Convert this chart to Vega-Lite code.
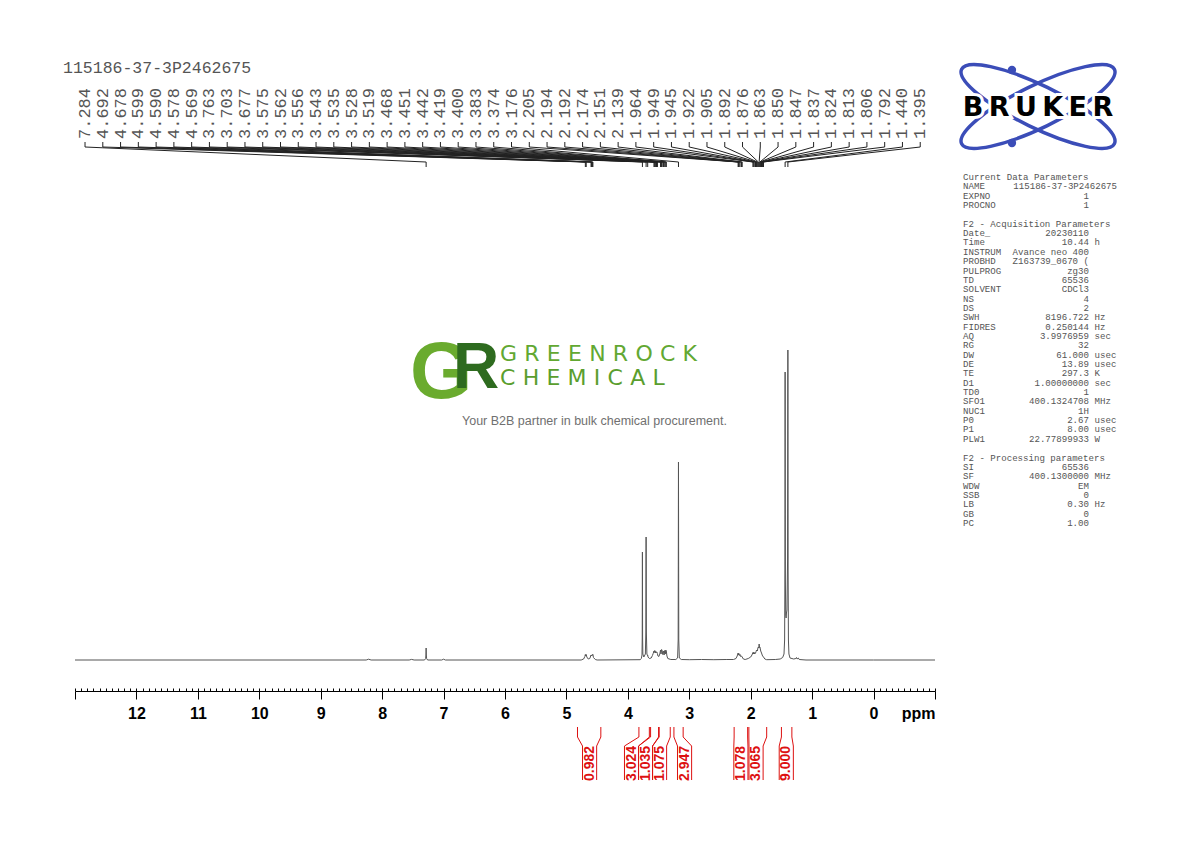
{
  "$schema": "https://vega.github.io/schema/vega-lite/v6.json",
  "description": "1H NMR spectrum, Bruker style plot with peak list, integrals and parameter panel.",
  "width": 860,
  "height": 691,
  "autosize": {"type": "none"},
  "padding": {"left": 75, "right": 255, "top": 0, "bottom": 151},
  "background": "white",
  "config": {"view": {"stroke": null}},
  "datasets": {
    "spectrum": [
      {"ppm": 13.0, "I": 0}, {"ppm": 8.26, "I": 0}, {"ppm": 8.22, "I": 0.8}, {"ppm": 8.18, "I": 0},
      {"ppm": 7.56, "I": 0}, {"ppm": 7.52, "I": 0.6}, {"ppm": 7.48, "I": 0},
      {"ppm": 7.31, "I": 0}, {"ppm": 7.292, "I": 1.5}, {"ppm": 7.287, "I": 5}, {"ppm": 7.284, "I": 12},
      {"ppm": 7.281, "I": 5}, {"ppm": 7.276, "I": 1.5}, {"ppm": 7.26, "I": 0},
      {"ppm": 7.03, "I": 0}, {"ppm": 7.0, "I": 0.8}, {"ppm": 6.97, "I": 0},
      {"ppm": 4.76, "I": 0}, {"ppm": 4.72, "I": 1}, {"ppm": 4.70, "I": 3.5}, {"ppm": 4.692, "I": 5.5},
      {"ppm": 4.685, "I": 4}, {"ppm": 4.678, "I": 5.5}, {"ppm": 4.668, "I": 3}, {"ppm": 4.645, "I": 1},
      {"ppm": 4.62, "I": 1.5}, {"ppm": 4.605, "I": 4}, {"ppm": 4.599, "I": 5}, {"ppm": 4.594, "I": 4.2},
      {"ppm": 4.590, "I": 5}, {"ppm": 4.584, "I": 4.5}, {"ppm": 4.578, "I": 5.5}, {"ppm": 4.573, "I": 4.8},
      {"ppm": 4.569, "I": 5.5}, {"ppm": 4.56, "I": 2.5}, {"ppm": 4.53, "I": 0.5}, {"ppm": 4.50, "I": 0},
      {"ppm": 3.80, "I": 0.3}, {"ppm": 3.78, "I": 1.5}, {"ppm": 3.770, "I": 5}, {"ppm": 3.766, "I": 22},
      {"ppm": 3.763, "I": 108}, {"ppm": 3.760, "I": 22}, {"ppm": 3.756, "I": 6}, {"ppm": 3.74, "I": 3},
      {"ppm": 3.715, "I": 6}, {"ppm": 3.707, "I": 28}, {"ppm": 3.703, "I": 123}, {"ppm": 3.699, "I": 28},
      {"ppm": 3.690, "I": 6}, {"ppm": 3.680, "I": 4.5}, {"ppm": 3.677, "I": 5}, {"ppm": 3.672, "I": 3},
      {"ppm": 3.65, "I": 1.5}, {"ppm": 3.62, "I": 2}, {"ppm": 3.60, "I": 4.5}, {"ppm": 3.588, "I": 6.5},
      {"ppm": 3.575, "I": 9}, {"ppm": 3.568, "I": 7.5}, {"ppm": 3.562, "I": 9.5}, {"ppm": 3.556, "I": 9},
      {"ppm": 3.550, "I": 7}, {"ppm": 3.543, "I": 8.5}, {"ppm": 3.535, "I": 7.5}, {"ppm": 3.528, "I": 8},
      {"ppm": 3.519, "I": 6.5}, {"ppm": 3.510, "I": 4}, {"ppm": 3.495, "I": 3.5}, {"ppm": 3.480, "I": 6},
      {"ppm": 3.468, "I": 10}, {"ppm": 3.460, "I": 6}, {"ppm": 3.451, "I": 10.5}, {"ppm": 3.442, "I": 9.5},
      {"ppm": 3.432, "I": 5.5}, {"ppm": 3.419, "I": 9}, {"ppm": 3.410, "I": 5}, {"ppm": 3.400, "I": 9.5},
      {"ppm": 3.390, "I": 6}, {"ppm": 3.383, "I": 10}, {"ppm": 3.374, "I": 9}, {"ppm": 3.364, "I": 4},
      {"ppm": 3.35, "I": 1.5}, {"ppm": 3.30, "I": 0.5}, {"ppm": 3.22, "I": 0.5}, {"ppm": 3.19, "I": 2},
      {"ppm": 3.181, "I": 20}, {"ppm": 3.176, "I": 198}, {"ppm": 3.171, "I": 20}, {"ppm": 3.162, "I": 2},
      {"ppm": 3.13, "I": 0.5}, {"ppm": 3.0, "I": 0.3}, {"ppm": 2.80, "I": 0.5}, {"ppm": 2.60, "I": 0.3},
      {"ppm": 2.40, "I": 0.5}, {"ppm": 2.28, "I": 0.5}, {"ppm": 2.24, "I": 1.5}, {"ppm": 2.22, "I": 4},
      {"ppm": 2.205, "I": 7}, {"ppm": 2.198, "I": 5}, {"ppm": 2.194, "I": 6.5}, {"ppm": 2.192, "I": 6.5},
      {"ppm": 2.185, "I": 4.5}, {"ppm": 2.174, "I": 5.5}, {"ppm": 2.165, "I": 3.5}, {"ppm": 2.151, "I": 4},
      {"ppm": 2.139, "I": 3}, {"ppm": 2.12, "I": 1}, {"ppm": 2.09, "I": 0.5}, {"ppm": 2.04, "I": 1.5},
      {"ppm": 2.00, "I": 3}, {"ppm": 1.980, "I": 5}, {"ppm": 1.964, "I": 7.5}, {"ppm": 1.955, "I": 6},
      {"ppm": 1.949, "I": 8}, {"ppm": 1.945, "I": 7.5}, {"ppm": 1.935, "I": 6}, {"ppm": 1.922, "I": 7},
      {"ppm": 1.912, "I": 8.5}, {"ppm": 1.905, "I": 10}, {"ppm": 1.892, "I": 9}, {"ppm": 1.883, "I": 12},
      {"ppm": 1.876, "I": 13}, {"ppm": 1.869, "I": 12}, {"ppm": 1.863, "I": 16}, {"ppm": 1.856, "I": 12.5},
      {"ppm": 1.850, "I": 13}, {"ppm": 1.847, "I": 12}, {"ppm": 1.837, "I": 9}, {"ppm": 1.824, "I": 7},
      {"ppm": 1.813, "I": 5}, {"ppm": 1.806, "I": 4}, {"ppm": 1.792, "I": 3}, {"ppm": 1.77, "I": 1},
      {"ppm": 1.74, "I": 0.3}, {"ppm": 1.60, "I": 0.5}, {"ppm": 1.52, "I": 1}, {"ppm": 1.48, "I": 2.5},
      {"ppm": 1.458, "I": 6}, {"ppm": 1.448, "I": 20}, {"ppm": 1.443, "I": 90}, {"ppm": 1.440, "I": 288},
      {"ppm": 1.436, "I": 80}, {"ppm": 1.430, "I": 45}, {"ppm": 1.424, "I": 42}, {"ppm": 1.418, "I": 47},
      {"ppm": 1.410, "I": 50}, {"ppm": 1.400, "I": 100}, {"ppm": 1.395, "I": 310}, {"ppm": 1.391, "I": 90},
      {"ppm": 1.386, "I": 20}, {"ppm": 1.378, "I": 6}, {"ppm": 1.36, "I": 2}, {"ppm": 1.30, "I": 1},
      {"ppm": 1.265, "I": 1.5}, {"ppm": 1.255, "I": 2.5}, {"ppm": 1.245, "I": 1}, {"ppm": 1.225, "I": 2},
      {"ppm": 1.21, "I": 0.5}, {"ppm": 1.10, "I": 0}, {"ppm": 0.0, "I": 0}, {"ppm": -1.0, "I": 0}
    ],
    "peaks": [
      {"ppm": 7.284}, {"ppm": 4.692}, {"ppm": 4.678}, {"ppm": 4.599}, {"ppm": 4.590}, {"ppm": 4.578},
      {"ppm": 4.569}, {"ppm": 3.763}, {"ppm": 3.703}, {"ppm": 3.677}, {"ppm": 3.575}, {"ppm": 3.562},
      {"ppm": 3.556}, {"ppm": 3.543}, {"ppm": 3.535}, {"ppm": 3.528}, {"ppm": 3.519}, {"ppm": 3.468},
      {"ppm": 3.451}, {"ppm": 3.442}, {"ppm": 3.419}, {"ppm": 3.400}, {"ppm": 3.383}, {"ppm": 3.374},
      {"ppm": 3.176}, {"ppm": 2.205}, {"ppm": 2.194}, {"ppm": 2.192}, {"ppm": 2.174}, {"ppm": 2.151},
      {"ppm": 2.139}, {"ppm": 1.964}, {"ppm": 1.949}, {"ppm": 1.945}, {"ppm": 1.922}, {"ppm": 1.905},
      {"ppm": 1.892}, {"ppm": 1.876}, {"ppm": 1.863}, {"ppm": 1.850}, {"ppm": 1.847}, {"ppm": 1.837},
      {"ppm": 1.824}, {"ppm": 1.813}, {"ppm": 1.806}, {"ppm": 1.792}, {"ppm": 1.440}, {"ppm": 1.395}
    ],
    "integrals": [
      {"value": 0.982, "start": 4.82, "end": 4.44, "lpos": 4.623},
      {"value": 3.024, "start": 3.82, "end": 3.65, "lpos": 3.940},
      {"value": 1.035, "start": 3.63, "end": 3.50, "lpos": 3.712},
      {"value": 1.075, "start": 3.49, "end": 3.31, "lpos": 3.484},
      {"value": 2.947, "start": 3.25, "end": 3.10, "lpos": 3.077},
      {"value": 1.078, "start": 2.27, "end": 2.05, "lpos": 2.160},
      {"value": 3.065, "start": 2.03, "end": 1.74, "lpos": 1.913},
      {"value": 9.000, "start": 1.50, "end": 1.33, "lpos": 1.421}
    ],
    "params": [
      {"row": 0, "key": "Current Data Parameters", "val": "", "unit": ""},
      {"row": 1, "key": "NAME", "val": "115186-37-3P2462675", "unit": ""},
      {"row": 2, "key": "EXPNO", "val": "1", "unit": ""},
      {"row": 3, "key": "PROCNO", "val": "1", "unit": ""},
      {"row": 5, "key": "F2 - Acquisition Parameters", "val": "", "unit": ""},
      {"row": 6, "key": "Date_", "val": "20230110", "unit": ""},
      {"row": 7, "key": "Time", "val": "10.44", "unit": "h"},
      {"row": 8, "key": "INSTRUM", "val": "Avance neo 400", "unit": ""},
      {"row": 9, "key": "PROBHD", "val": "Z163739_0670 (", "unit": ""},
      {"row": 10, "key": "PULPROG", "val": "zg30", "unit": ""},
      {"row": 11, "key": "TD", "val": "65536", "unit": ""},
      {"row": 12, "key": "SOLVENT", "val": "CDCl3", "unit": ""},
      {"row": 13, "key": "NS", "val": "4", "unit": ""},
      {"row": 14, "key": "DS", "val": "2", "unit": ""},
      {"row": 15, "key": "SWH", "val": "8196.722", "unit": "Hz"},
      {"row": 16, "key": "FIDRES", "val": "0.250144", "unit": "Hz"},
      {"row": 17, "key": "AQ", "val": "3.9976959", "unit": "sec"},
      {"row": 18, "key": "RG", "val": "32", "unit": ""},
      {"row": 19, "key": "DW", "val": "61.000", "unit": "usec"},
      {"row": 20, "key": "DE", "val": "13.89", "unit": "usec"},
      {"row": 21, "key": "TE", "val": "297.3", "unit": "K"},
      {"row": 22, "key": "D1", "val": "1.00000000", "unit": "sec"},
      {"row": 23, "key": "TD0", "val": "1", "unit": ""},
      {"row": 24, "key": "SFO1", "val": "400.1324708", "unit": "MHz"},
      {"row": 25, "key": "NUC1", "val": "1H", "unit": ""},
      {"row": 26, "key": "P0", "val": "2.67", "unit": "usec"},
      {"row": 27, "key": "P1", "val": "8.00", "unit": "usec"},
      {"row": 28, "key": "PLW1", "val": "22.77899933", "unit": "W"},
      {"row": 30, "key": "F2 - Processing parameters", "val": "", "unit": ""},
      {"row": 31, "key": "SI", "val": "65536", "unit": ""},
      {"row": 32, "key": "SF", "val": "400.1300000", "unit": "MHz"},
      {"row": 33, "key": "WDW", "val": "EM", "unit": ""},
      {"row": 34, "key": "SSB", "val": "0", "unit": ""},
      {"row": 35, "key": "LB", "val": "0.30", "unit": "Hz"},
      {"row": 36, "key": "GB", "val": "0", "unit": ""},
      {"row": 37, "key": "PC", "val": "1.00", "unit": ""}
    ]
  },
  "layer": [
    {
      "data": {"values": [{"ppm": 0}]},
      "mark": {"type": "point", "opacity": 0},
      "encoding": {
        "x": {
          "field": "ppm", "type": "quantitative",
          "scale": {"domain": [-1, 13], "reverse": true, "nice": false, "zero": false},
          "axis": {
            "orient": "bottom", "tickCount": 140, "labels": false, "domain": false, "grid": false,
            "title": null, "tickSize": -3, "tickColor": "black", "tickWidth": 1
          }
        },
        "y": {"datum": 0, "type": "quantitative", "scale": {"domain": [-31, 660], "nice": false, "zero": false}, "axis": null}
      }
    },
    {
      "data": {"name": "spectrum"},
      "mark": {"type": "line", "color": "#555555", "strokeWidth": 1},
      "encoding": {
        "x": {
          "field": "ppm", "type": "quantitative",
          "scale": {"domain": [-1, 13], "reverse": true, "nice": false, "zero": false},
          "axis": {
            "orient": "bottom",
            "values": [-1, 0, 1, 2, 3, 4, 5, 6, 7, 8, 9, 10, 11, 12, 13],
            "format": "d",
            "labelExpr": "datum.value < 0 || datum.value > 12 ? '' : datum.label",
            "grid": false, "tickSize": 8, "tickColor": "black", "tickWidth": 1,
            "domainColor": "black", "domainWidth": 1,
            "labelFont": "Liberation Sans", "labelFontWeight": "bold", "labelFontSize": 16,
            "labelColor": "black", "labelPadding": 6, "labelFlush": false, "labelOverlap": false,
            "title": "ppm", "titleFont": "Liberation Sans", "titleFontWeight": "bold", "titleFontSize": 16,
            "titleColor": "black", "titleAnchor": "end", "titleAlign": "right", "titleBaseline": "top",
            "titleX": 860, "titleY": 14
          }
        },
        "y": {"field": "I", "type": "quantitative", "scale": {"domain": [-31, 660], "nice": false, "zero": false}, "axis": null}
      }
    },
    {
      "data": {"name": "peaks"},
      "transform": [
        {"window": [{"op": "row_number", "as": "slot"}], "sort": [{"field": "ppm", "order": "descending"}]},
        {"calculate": "13.126 - 0.28928 * datum.slot", "as": "lx"}
      ],
      "layer": [
        {
          "mark": {"type": "rule", "color": "#222222", "strokeWidth": 1},
          "encoding": {
            "x": {"field": "lx", "type": "quantitative", "scale": {"domain": [-1, 13], "reverse": true, "nice": false, "zero": false}, "axis": null},
            "y": {"datum": 518, "type": "quantitative", "scale": {"domain": [-31, 660], "nice": false, "zero": false}, "axis": null},
            "y2": {"datum": 513}
          }
        },
        {
          "mark": {"type": "rule", "color": "#222222", "strokeWidth": 1},
          "encoding": {
            "x": {"field": "lx", "type": "quantitative", "scale": {"domain": [-1, 13], "reverse": true, "nice": false, "zero": false}, "axis": null},
            "x2": {"field": "ppm"},
            "y": {"datum": 513, "type": "quantitative", "scale": {"domain": [-31, 660], "nice": false, "zero": false}, "axis": null},
            "y2": {"datum": 498}
          }
        },
        {
          "mark": {"type": "rule", "color": "#222222", "strokeWidth": 1},
          "encoding": {
            "x": {"field": "ppm", "type": "quantitative", "scale": {"domain": [-1, 13], "reverse": true, "nice": false, "zero": false}, "axis": null},
            "y": {"datum": 498, "type": "quantitative", "scale": {"domain": [-31, 660], "nice": false, "zero": false}, "axis": null},
            "y2": {"datum": 493}
          }
        },
        {
          "mark": {"type": "text", "angle": 270, "align": "left", "baseline": "middle", "font": "Liberation Mono", "fontSize": 17, "color": "#555555"},
          "encoding": {
            "x": {"field": "lx", "type": "quantitative", "scale": {"domain": [-1, 13], "reverse": true, "nice": false, "zero": false}, "axis": null},
            "y": {"datum": 521, "type": "quantitative", "scale": {"domain": [-31, 660], "nice": false, "zero": false}, "axis": null},
            "text": {"field": "ppm", "type": "quantitative", "format": ".3f"}
          }
        }
      ]
    },
    {
      "data": {"name": "integrals"},
      "transform": [
        {"fold": ["start", "end"], "as": ["side", "edge"]},
        {"calculate": "datum.side == 'start' ? datum.lpos + 0.115 : datum.lpos - 0.115", "as": "col"}
      ],
      "layer": [
        {
          "mark": {"type": "rule", "color": "#dd1111", "strokeWidth": 1},
          "encoding": {
            "x": {"field": "edge", "type": "quantitative", "scale": {"domain": [-1, 13], "reverse": true, "nice": false, "zero": false}, "axis": null},
            "y": {"datum": -67, "type": "quantitative", "scale": {"domain": [-31, 660], "nice": false, "zero": false}, "axis": null},
            "y2": {"datum": -77}
          }
        },
        {
          "mark": {"type": "rule", "color": "#dd1111", "strokeWidth": 1},
          "encoding": {
            "x": {"field": "edge", "type": "quantitative", "scale": {"domain": [-1, 13], "reverse": true, "nice": false, "zero": false}, "axis": null},
            "x2": {"field": "col"},
            "y": {"datum": -77, "type": "quantitative", "scale": {"domain": [-31, 660], "nice": false, "zero": false}, "axis": null},
            "y2": {"datum": -86}
          }
        },
        {
          "mark": {"type": "rule", "color": "#dd1111", "strokeWidth": 1},
          "encoding": {
            "x": {"field": "col", "type": "quantitative", "scale": {"domain": [-1, 13], "reverse": true, "nice": false, "zero": false}, "axis": null},
            "y": {"datum": -86, "type": "quantitative", "scale": {"domain": [-31, 660], "nice": false, "zero": false}, "axis": null},
            "y2": {"datum": -120}
          }
        }
      ]
    },
    {
      "data": {"name": "integrals"},
      "mark": {"type": "text", "angle": 270, "align": "left", "baseline": "middle", "font": "Liberation Sans", "fontWeight": "bold", "fontSize": 14, "color": "#dd1111"},
      "encoding": {
        "x": {"field": "lpos", "type": "quantitative", "scale": {"domain": [-1, 13], "reverse": true, "nice": false, "zero": false}, "axis": null},
        "y": {"datum": -121, "type": "quantitative", "scale": {"domain": [-31, 660], "nice": false, "zero": false}, "axis": null},
        "text": {"field": "value", "type": "quantitative", "format": ".3f"}
      }
    },
    {
      "data": {"name": "params"},
      "layer": [
        {
          "mark": {"type": "text", "align": "left", "baseline": "middle", "font": "Liberation Mono", "fontSize": 9.1, "color": "#555555"},
          "encoding": {
            "x": {"datum": -1.456, "type": "quantitative", "scale": {"domain": [-1, 13], "reverse": true, "nice": false, "zero": false}, "axis": null},
            "y": {"field": "row", "type": "quantitative", "scale": {"domain": [0, 37], "range": [177, 522.95], "nice": false, "zero": false}, "axis": null},
            "text": {"field": "key", "type": "nominal"}
          }
        },
        {
          "transform": [{"filter": "datum.val != '' && datum.key != 'NAME'"}],
          "mark": {"type": "text", "align": "right", "baseline": "middle", "font": "Liberation Mono", "fontSize": 9.1, "color": "#555555"},
          "encoding": {
            "x": {"datum": -3.507, "type": "quantitative", "scale": {"domain": [-1, 13], "reverse": true, "nice": false, "zero": false}, "axis": null},
            "y": {"field": "row", "type": "quantitative", "scale": {"domain": [0, 37], "range": [177, 522.95], "nice": false, "zero": false}, "axis": null},
            "text": {"field": "val", "type": "nominal"}
          }
        },
        {
          "transform": [{"filter": "datum.key == 'NAME'"}],
          "mark": {"type": "text", "align": "right", "baseline": "middle", "font": "Liberation Mono", "fontSize": 9.1, "color": "#555555"},
          "encoding": {
            "x": {"datum": -3.963, "type": "quantitative", "scale": {"domain": [-1, 13], "reverse": true, "nice": false, "zero": false}, "axis": null},
            "y": {"field": "row", "type": "quantitative", "scale": {"domain": [0, 37], "range": [177, 522.95], "nice": false, "zero": false}, "axis": null},
            "text": {"field": "val", "type": "nominal"}
          }
        },
        {
          "transform": [{"filter": "datum.unit != ''"}],
          "mark": {"type": "text", "align": "left", "baseline": "middle", "font": "Liberation Mono", "fontSize": 9.1, "color": "#555555"},
          "encoding": {
            "x": {"datum": -3.597, "type": "quantitative", "scale": {"domain": [-1, 13], "reverse": true, "nice": false, "zero": false}, "axis": null},
            "y": {"field": "row", "type": "quantitative", "scale": {"domain": [0, 37], "range": [177, 522.95], "nice": false, "zero": false}, "axis": null},
            "text": {"field": "unit", "type": "nominal"}
          }
        }
      ]
    },
    {
      "data": {"values": [{}]},
      "layer": [
        {
          "mark": {"type": "text", "align": "left", "baseline": "middle", "font": "Liberation Mono", "fontSize": 16.5, "color": "#555555"},
          "encoding": {
            "x": {"datum": 13.195, "type": "quantitative", "scale": {"domain": [-1, 13], "reverse": true, "nice": false, "zero": false}, "axis": null},
            "y": {"datum": 592, "type": "quantitative", "scale": {"domain": [-31, 660], "nice": false, "zero": false}, "axis": null},
            "text": {"value": "115186-37-3P2462675"}
          }
        },
        {
          "mark": {"type": "point", "shape": "M -1 0 A 1 0.25 0 1 0 1 0 A 1 0.25 0 1 0 -1 0", "size": 28900, "filled": false, "stroke": "#3b4db8", "strokeWidth": 3.5, "opacity": 1, "angle": 26},
          "encoding": {
            "x": {"datum": -2.677, "type": "quantitative", "scale": {"domain": [-1, 13], "reverse": true, "nice": false, "zero": false}, "axis": null},
            "y": {"datum": 553.5, "type": "quantitative", "scale": {"domain": [-31, 660], "nice": false, "zero": false}, "axis": null}
          }
        },
        {
          "mark": {"type": "point", "shape": "M -1 0 A 1 0.25 0 1 0 1 0 A 1 0.25 0 1 0 -1 0", "size": 28900, "filled": false, "stroke": "#3b4db8", "strokeWidth": 3.5, "opacity": 1, "angle": -26},
          "encoding": {
            "x": {"datum": -2.677, "type": "quantitative", "scale": {"domain": [-1, 13], "reverse": true, "nice": false, "zero": false}, "axis": null},
            "y": {"datum": 553.5, "type": "quantitative", "scale": {"domain": [-31, 660], "nice": false, "zero": false}, "axis": null}
          }
        },
        {
          "mark": {"type": "point", "shape": "circle", "size": 70, "filled": true, "color": "#3b4db8", "opacity": 1},
          "encoding": {
            "x": {"datum": -2.253, "type": "quantitative", "scale": {"domain": [-1, 13], "reverse": true, "nice": false, "zero": false}, "axis": null},
            "y": {"datum": 590, "type": "quantitative", "scale": {"domain": [-31, 660], "nice": false, "zero": false}, "axis": null}
          }
        },
        {
          "mark": {"type": "point", "shape": "circle", "size": 70, "filled": true, "color": "#3b4db8", "opacity": 1},
          "encoding": {
            "x": {"datum": -2.253, "type": "quantitative", "scale": {"domain": [-1, 13], "reverse": true, "nice": false, "zero": false}, "axis": null},
            "y": {"datum": 517, "type": "quantitative", "scale": {"domain": [-31, 660], "nice": false, "zero": false}, "axis": null}
          }
        },
        {
          "mark": {"type": "text", "align": "center", "baseline": "middle", "font": "DejaVu Sans", "fontWeight": "bold", "fontSize": 27, "color": "white", "stroke": "white", "strokeWidth": 6},
          "encoding": {
            "x": {"datum": -2.677, "type": "quantitative", "scale": {"domain": [-1, 13], "reverse": true, "nice": false, "zero": false}, "axis": null},
            "y": {"datum": 552, "type": "quantitative", "scale": {"domain": [-31, 660], "nice": false, "zero": false}, "axis": null},
            "text": {"value": "B\u2009R\u2009U\u2009K\u2009E\u2009R"}
          }
        },
        {
          "mark": {"type": "text", "align": "center", "baseline": "middle", "font": "DejaVu Sans", "fontWeight": "bold", "fontSize": 27, "color": "black"},
          "encoding": {
            "x": {"datum": -2.677, "type": "quantitative", "scale": {"domain": [-1, 13], "reverse": true, "nice": false, "zero": false}, "axis": null},
            "y": {"datum": 552, "type": "quantitative", "scale": {"domain": [-31, 660], "nice": false, "zero": false}, "axis": null},
            "text": {"value": "B\u2009R\u2009U\u2009K\u2009E\u2009R"}
          }
        },
        {
          "mark": {"type": "text", "align": "center", "baseline": "middle", "font": "Liberation Sans", "fontWeight": "bold", "fontSize": 80, "color": "#6aab2e"},
          "encoding": {
            "x": {"datum": 7.042, "type": "quantitative", "scale": {"domain": [-1, 13], "reverse": true, "nice": false, "zero": false}, "axis": null},
            "y": {"datum": 286, "type": "quantitative", "scale": {"domain": [-31, 660], "nice": false, "zero": false}, "axis": null},
            "text": {"value": "G"}
          }
        },
        {
          "mark": {"type": "text", "align": "center", "baseline": "middle", "font": "Liberation Sans", "fontWeight": "bold", "fontSize": 64, "color": "#2e6b1f"},
          "encoding": {
            "x": {"datum": 6.472, "type": "quantitative", "scale": {"domain": [-1, 13], "reverse": true, "nice": false, "zero": false}, "axis": null},
            "y": {"datum": 291, "type": "quantitative", "scale": {"domain": [-31, 660], "nice": false, "zero": false}, "axis": null},
            "text": {"value": "R"}
          }
        },
        {
          "mark": {"type": "text", "align": "left", "baseline": "middle", "font": "DejaVu Sans", "fontSize": 22, "color": "#62a832"},
          "encoding": {
            "x": {"datum": 6.081, "type": "quantitative", "scale": {"domain": [-1, 13], "reverse": true, "nice": false, "zero": false}, "axis": null},
            "y": {"datum": 306, "type": "quantitative", "scale": {"domain": [-31, 660], "nice": false, "zero": false}, "axis": null},
            "text": {"value": "G\u2004R\u2004E\u2004E\u2004N\u2004R\u2004O\u2004C\u2004K"}
          }
        },
        {
          "mark": {"type": "text", "align": "left", "baseline": "middle", "font": "DejaVu Sans", "fontSize": 22, "color": "#5a9e2e"},
          "encoding": {
            "x": {"datum": 6.081, "type": "quantitative", "scale": {"domain": [-1, 13], "reverse": true, "nice": false, "zero": false}, "axis": null},
            "y": {"datum": 282, "type": "quantitative", "scale": {"domain": [-31, 660], "nice": false, "zero": false}, "axis": null},
            "text": {"value": "C\u2004H\u2004E\u2004M\u2004I\u2004C\u2004A\u2004L"}
          }
        },
        {
          "mark": {"type": "text", "align": "center", "baseline": "middle", "font": "Liberation Sans", "fontSize": 12.5, "color": "#707070"},
          "encoding": {
            "x": {"datum": 4.543, "type": "quantitative", "scale": {"domain": [-1, 13], "reverse": true, "nice": false, "zero": false}, "axis": null},
            "y": {"datum": 239, "type": "quantitative", "scale": {"domain": [-31, 660], "nice": false, "zero": false}, "axis": null},
            "text": {"value": "Your B2B partner in bulk chemical procurement."}
          }
        }
      ]
    }
  ],
  "resolve": {"axis": {"x": "independent"}, "scale": {"y": "independent"}}
}
